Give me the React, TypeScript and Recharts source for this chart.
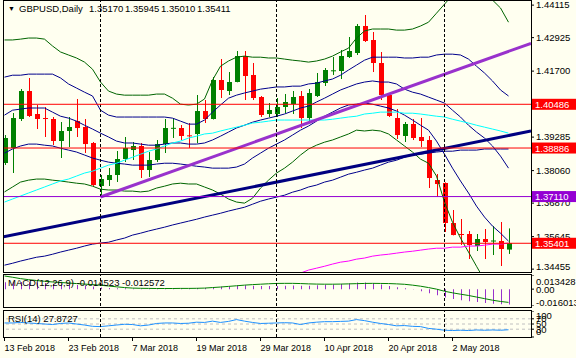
import React from "react";
import { Bar, ComposedChart, Line, ReferenceLine, XAxis, YAxis } from "recharts";

const dateLabels = ["13 Feb 2018", "23 Feb 2018", "7 Mar 2018", "19 Mar 2018", "29 Mar 2018", "10 Apr 2018", "20 Apr 2018", "2 May 2018"];
const dateIndex = [0, 8, 16, 24, 32, 40, 48, 56];
const monthStarts = [12, 34, 55];

const opens = [1.38338,1.38887,1.39948,1.40972,1.40131,1.39984,1.39948,1.39143,1.39509,1.39875,
  1.39655,1.39069,1.37496,1.37716,1.37899,1.38484,1.38813,1.3896,1.38082,1.38448,
  1.39032,1.396,1.39618,1.3935,1.39399,1.4024,1.39948,1.41375,1.40972,1.41302,
  1.42253,1.41558,1.40753,1.40131,1.40131,1.40387,1.40497,1.40789,1.39984,1.40789,
  1.41265,1.4171,1.41704,1.42216,1.42363,1.43351,1.42838,1.41997,1.40826,1.39984,
  1.39326,1.39765,1.39289,1.39179,1.37716,1.37606,1.36142,1.3574,1.3574,1.35301,
  1.35557,1.35466,1.35484,1.3517];
const highs = [1.39362,1.40167,1.41046,1.41448,1.4046,1.40387,1.40021,1.39838,1.40021,1.4068,
  1.39948,1.39106,1.37899,1.38155,1.38777,1.39289,1.39106,1.39069,1.3874,1.39179,
  1.39948,1.39984,1.39728,1.39801,1.40826,1.40643,1.41485,1.42143,1.41667,1.42436,
  1.42436,1.41997,1.40789,1.40533,1.40716,1.40863,1.40972,1.40972,1.41046,1.41631,
  1.41814,1.42216,1.42473,1.42948,1.43424,1.43753,1.43131,1.42399,1.40899,1.40314,
  1.39838,1.39948,1.39984,1.39326,1.37936,1.3763,1.36618,1.36289,1.3585,1.3574,
  1.35923,1.36033,1.36179,1.35945];
const lows = [1.38265,1.37972,1.39875,1.40021,1.39582,1.39289,1.38996,1.38521,1.38923,1.39289,
  1.38704,1.375,1.37094,1.37496,1.37643,1.38374,1.38448,1.37789,1.37826,1.38374,
  1.38704,1.39253,1.39179,1.38887,1.39069,1.39801,1.3993,1.40716,1.40826,1.4129,
  1.40643,1.40643,1.40021,1.40021,1.40021,1.40167,1.40131,1.39618,1.39838,1.40753,
  1.41155,1.41558,1.41411,1.4218,1.4229,1.42765,1.41667,1.40643,1.40021,1.39216,
  1.39106,1.39179,1.38923,1.37423,1.37094,1.35813,1.3569,1.35338,1.34825,1.35118,
  1.34825,1.34971,1.34569,1.3501];
const closes = [1.39253,1.39984,1.40972,1.40058,1.39948,1.39948,1.39143,1.39509,1.39655,1.39618,
  1.39032,1.37533,1.37752,1.37899,1.38484,1.38887,1.3896,1.38082,1.38448,1.39032,
  1.39618,1.39625,1.39326,1.3933,1.4024,1.39948,1.41375,1.41009,1.41302,1.42253,
  1.41521,1.40716,1.40094,1.40277,1.40387,1.4057,1.40753,1.39984,1.40899,1.41302,
  1.41741,1.4173,1.42253,1.42436,1.43351,1.42802,1.41997,1.40826,1.40058,1.39362,
  1.39765,1.39253,1.39143,1.37789,1.37569,1.36142,1.35703,1.35703,1.35338,1.35557,
  1.35447,1.35502,1.35191,1.35411];

// bollinger 2.0 (green) and 1.0 (navy) bands, middle line
const bbUp2 = [1.4284,1.4284,1.4287,1.4291,1.4291,1.4287,1.4262,1.424,1.4229,1.4218,
  1.4203,1.4177,1.413,1.4097,1.4086,1.4082,1.4082,1.4082,1.4082,1.4086,
  1.4086,1.4071,1.4049,1.4046,1.4049,1.4068,1.4137,1.4188,1.4207,1.4221,
  1.4225,1.4221,1.4221,1.4218,1.4218,1.4214,1.421,1.4207,1.4203,1.4207,
  1.4214,1.4225,1.424,1.4254,1.4291,1.4317,1.4324,1.4324,1.4324,1.432,
  1.432,1.4324,1.4335,1.4349,1.4382,1.4415,1.4448,1.4467,1.4474,1.4467,
  1.4452,1.443,1.4401,1.4349];
const bbUp1 = [1.4148,1.4155,1.4155,1.4159,1.4159,1.4159,1.4159,1.4145,1.4123,1.4108,
  1.4093,1.4079,1.4027,1.4009,1.4002,1.4002,1.4002,1.4002,1.4002,1.4002,
  1.4002,1.3998,1.3987,1.3976,1.3976,1.3991,1.402,1.4046,1.4071,1.4082,
  1.409,1.4097,1.4104,1.4108,1.4112,1.4112,1.4115,1.4115,1.4123,1.4126,
  1.4134,1.4141,1.4155,1.4174,1.4192,1.421,1.4221,1.4221,1.4221,1.4221,
  1.4218,1.4218,1.4221,1.4221,1.4229,1.4232,1.4232,1.4229,1.4214,1.4188,
  1.4163,1.4134,1.4101,1.4079];
const bbMid = [1.4009,1.4027,1.4031,1.4035,1.4035,1.4035,1.402,1.4005,1.3998,1.3987,
  1.3972,1.3958,1.3943,1.3929,1.3914,1.3907,1.3907,1.3903,1.3899,1.3899,
  1.3903,1.3907,1.3907,1.3903,1.3903,1.3907,1.3918,1.3932,1.3947,1.3962,
  1.3972,1.3983,1.3991,1.3998,1.4005,1.4013,1.4024,1.4035,1.4042,1.4057,
  1.4071,1.4086,1.4101,1.4112,1.4123,1.413,1.4134,1.413,1.413,1.4123,
  1.4104,1.4093,1.4086,1.4075,1.4064,1.4053,1.4027,1.4002,1.3972,1.3947,
  1.3925,1.3896,1.3859,1.3815];
const bbLo1 = [1.387,1.3885,1.3896,1.3903,1.3903,1.3899,1.3896,1.3888,1.3881,1.3874,
  1.3863,1.3852,1.3844,1.3837,1.3833,1.383,1.3826,1.3826,1.3826,1.383,
  1.3833,1.3833,1.383,1.3826,1.3822,1.3819,1.3815,1.3815,1.3815,1.3819,
  1.383,1.3852,1.387,1.3888,1.3903,1.3918,1.3936,1.3954,1.3969,1.3987,
  1.4005,1.402,1.4035,1.4046,1.4049,1.4053,1.4049,1.4042,1.4035,1.4024,
  1.4009,1.3991,1.3972,1.3954,1.3914,1.3866,1.3815,1.3768,1.3724,1.3676,
  1.3636,1.3603,1.3577,1.3548];
const bbLo2 = [1.3728,1.3746,1.3764,1.3771,1.3775,1.3775,1.3771,1.3768,1.3764,1.376,
  1.3757,1.3749,1.3738,1.3735,1.3735,1.3731,1.3731,1.3728,1.3731,1.3742,
  1.3749,1.3757,1.376,1.3757,1.3757,1.3746,1.3735,1.372,1.3702,1.3691,
  1.3687,1.3705,1.3742,1.3771,1.3797,1.3815,1.3837,1.3863,1.3885,1.3899,
  1.391,1.3918,1.3929,1.394,1.3954,1.3951,1.3954,1.3951,1.394,1.3918,
  1.3896,1.3874,1.3848,1.3833,1.3786,1.3691,1.3617,1.3559,1.3508,1.3456,
  1.3405,1.3361,1.3325,1.3288];

const maCyan = [1.3691,1.3702,1.3713,1.3724,1.3735,1.3746,1.3757,1.3768,1.3775,1.3786,
  1.3797,1.3804,1.3815,1.3826,1.3833,1.3844,1.3855,1.3866,1.3877,1.3885,
  1.3896,1.3907,1.3914,1.3925,1.3932,1.394,1.3943,1.3951,1.3958,1.3965,
  1.3972,1.398,1.3983,1.3987,1.3991,1.3991,1.3991,1.3991,1.3991,1.3991,
  1.3991,1.3994,1.3998,1.4002,1.4005,1.4013,1.4016,1.402,1.402,1.402,
  1.4016,1.4016,1.4013,1.4009,1.4005,1.4002,1.3994,1.3987,1.398,1.3972,
  1.3965,1.3958,1.3951,1.3943];
const maNavy = [1.346,1.3467,1.3475,1.3482,1.3489,1.3493,1.35,1.3508,1.3515,1.3522,
  1.353,1.3537,1.3541,1.3544,1.3552,1.3559,1.357,1.3577,1.3585,1.3592,
  1.3599,1.3607,1.3614,1.3621,1.3628,1.3636,1.3643,1.365,1.3658,1.3665,
  1.3672,1.3683,1.3694,1.3702,1.3709,1.3716,1.3727,1.3735,1.3746,1.3753,
  1.3764,1.3771,1.3782,1.3793,1.38,1.3808,1.3815,1.3826,1.3837,1.3844,
  1.3855,1.3863,1.3866,1.387,1.3874,1.3877,1.3877,1.3881,1.3881,1.3881,
  1.3885,1.3885,1.3885,1.3885];
const maMagenta = [null,null,null,null,null,null,null,null,null,null,
  null,null,null,null,null,null,null,null,null,null,
  null,null,null,null,null,null,null,null,null,null,
  null,null,null,null,null,null,1.342,1.3431,1.3442,1.3449,
  1.3456,1.3464,1.3471,1.3475,1.3482,1.3486,1.3493,1.3497,1.35,1.3504,
  1.3508,1.3511,1.3515,1.3519,1.3522,1.3522,1.3526,1.3526,1.353,1.353,
  1.3533,1.3537,1.3537,1.3541];

const macdHist = [0.0065,0.0066,0.0068,0.0066,0.0062,0.0058,0.0052,0.0047,0.0043,0.004,
  0.0034,0.0024,0.0015,0.001,0.0008,0.0008,0.0007,0.0004,0.0003,0.0004,
  0.0006,0.0007,0.0007,0.0006,0.001,0.0011,0.0019,0.0022,0.0026,0.0034,
  0.0036,0.0033,0.003,0.0029,0.003,0.0032,0.0034,0.0031,0.0033,0.0037,
  0.0042,0.0043,0.0048,0.0053,0.0062,0.0062,0.0056,0.0043,0.003,0.0017,
  0.0008,0.0001,-0.002,-0.004,-0.0057,-0.008,-0.0094,-0.0105,-0.0114,-0.0122,
  -0.0131,-0.0138,-0.0143,-0.014523];
const macdSignal = [0.0125,0.0113,0.01,0.009,0.0082,0.0075,0.0068,0.0063,0.0058,0.0053,
  0.0048,0.0043,0.0037,0.003,0.0022,0.0015,0.001,0.0008,0.0007,0.0006,
  0.0006,0.0006,0.0007,0.0007,0.0008,0.001,0.0015,0.002,0.0026,0.0032,
  0.0038,0.0043,0.0047,0.0051,0.0054,0.0055,0.0055,0.0053,0.005,0.0048,
  0.0047,0.0047,0.0048,0.005,0.0052,0.0054,0.0055,0.0054,0.0053,0.005,
  0.0046,0.0038,0.0028,0.0015,0,-0.002,-0.0035,-0.0048,-0.006,-0.0075,
  -0.009,-0.0105,-0.0117,-0.012572];
const rsiValues = [54,54,56,54,52,50,48,52,54,50,
  46,41,40,43,46,49,48,43,46,52,
  54,54,52,53,57,56,61,56,60,67,
  61,56,52,53,54,55,54,48,54,57,
  59,59,60,61,67,63,57,52,48,43,
  44,41,40,33,30,26,25,26,25,27,
  26,27,26,27.8727];

const priceTicks = [1.44115, 1.42925, 1.417, 1.4049, 1.39285, 1.3806, 1.3687, 1.35645, 1.34455];
const levels = [1.40486, 1.38886, 1.3711, 1.35401];
const purpleTrend = [{ i: 12, v: 1.37094 }, { i: 65.8125, v: 1.42718 }];
const navyTrend = [{ i: -0.4375, v: 1.35616 }, { i: 65.8125, v: 1.39509 }];

const X_DOMAIN = [-0.4375, 65.8125];
const PRICE_DOMAIN = [1.3435, 1.44302];
const BG = "#FFFFF0";
const FONT = "'Liberation Sans', Arial, sans-serif";

const rows = Array.from({ length: 66 }, (_, i) =>
  i < 64
    ? {
        i,
        open: opens[i],
        high: highs[i],
        low: lows[i],
        close: closes[i],
        range: [lows[i], highs[i]],
        up2: bbUp2[i],
        up1: bbUp1[i],
        mid: bbMid[i],
        lo1: bbLo1[i],
        lo2: bbLo2[i],
        cyan: maCyan[i],
        navy: maNavy[i],
        magenta: maMagenta[i],
        macd: macdHist[i],
        signal: macdSignal[i],
        rsi: rsiValues[i],
      }
    : { i }
);

function Candle(props: any) {
  const { x, y, width, height, payload } = props;
  if (!payload || payload.open == null) return null;
  const top = Math.min(y, y + height);
  const span = Math.abs(height);
  const k = span / (payload.high - payload.low);
  const yO = top + (payload.high - payload.open) * k;
  const yC = top + (payload.high - payload.close) * k;
  const color = payload.close >= payload.open ? "#008000" : "#FF0000";
  const cx = Math.round(x + width / 2 - 0.5) + 0.5;
  return (
    <g>
      <line x1={cx} x2={cx} y1={top} y2={top + span} stroke={color} />
      <rect x={cx - 2.5} y={Math.min(yO, yC)} width={5} height={Math.max(Math.abs(yO - yC), 1)} fill={color} />
    </g>
  );
}

function PriceBox(props: any) {
  const { viewBox, color, text } = props;
  if (!viewBox) return null;
  const right = viewBox.x + viewBox.width;
  return (
    <g>
      <rect x={right + 1} y={viewBox.y - 5.5} width={45} height={11} fill={color} />
      <text x={right + 4} y={viewBox.y + 3.5} fill="#FFFFFF" fontSize={9.5}>
        {text}
      </text>
    </g>
  );
}

function PriceTick(props: any) {
  const { x, y, payload } = props;
  const c = Math.min(Math.max(y, 4), 267);
  return (
    <text x={x} y={c + 3.3} fontSize={9.5} fill="#000">
      {payload.value.toFixed(5)}
    </text>
  );
}

function MacdTick(props: any) {
  const { x, y, payload } = props;
  const v = payload.value;
  const shift = v > 0 ? 7 : v < 0 ? -3 : 1;
  return (
    <text x={x} y={y + shift + 3.3} fontSize={9.5} fill="#000">
      {v === 0 ? "0.00" : v.toFixed(6)}
    </text>
  );
}

function RsiTick(props: any) {
  const { x, y, payload } = props;
  const c = Math.min(Math.max(y, 5), 21);
  return (
    <text x={x} y={c + 3.3} fontSize={9.5} fill="#000">
      {payload.value}
    </text>
  );
}

function DateTick(props: any) {
  const { x, y, payload } = props;
  return (
    <text x={x} y={y + 8} fontSize={9} fill="#000" textAnchor="start">
      {dateLabels[dateIndex.indexOf(payload.value)]}
    </text>
  );
}

const line = { type: "linear" as const, dot: false, activeDot: false, isAnimationActive: false, strokeWidth: 1, xAxisId: "n" };

export default function App() {
  const sep = monthStarts.map((m) => (
    <ReferenceLine key={m} xAxisId="n" x={m} stroke="#000" strokeDasharray="3 2" />
  ));
  const frame = (top: number, height: number) => ({
    position: "absolute" as const,
    left: 3,
    top,
    width: 529,
    height,
    border: "1px solid #000",
    boxSizing: "border-box" as const,
    pointerEvents: "none" as const,
  });
  return (
    <div style={{ position: "relative", width: 576, height: 358, background: BG, overflow: "hidden", fontFamily: FONT }}>
      <style>{"body{margin:0}"}</style>

      <div style={{ position: "absolute", left: 0, top: 0 }}>
        <ComposedChart width={576} height={273} data={rows} margin={{ top: 0, right: 0, bottom: 1, left: 1 }}>
          <XAxis xAxisId="c" dataKey="i" type="category" hide padding={{ left: 0, right: 2 }} />
          <XAxis xAxisId="n" dataKey="i" type="number" domain={X_DOMAIN} hide allowDataOverflow />
          <YAxis
            orientation="right"
            width={45}
            domain={PRICE_DOMAIN}
            allowDataOverflow
            ticks={priceTicks}
            interval={0}
            tick={<PriceTick />}
            tickSize={3}
            tickMargin={2}
            tickLine={{ stroke: "#000" }}
            axisLine={false}
          />
          <Bar xAxisId="c" dataKey="range" barSize={5} shape={<Candle />} isAnimationActive={false} />
          <Line {...line} dataKey="up2" stroke="#006400" />
          <Line {...line} dataKey="lo2" stroke="#006400" />
          <Line {...line} dataKey="up1" stroke="#00008B" />
          <Line {...line} dataKey="mid" stroke="#00008B" />
          <Line {...line} dataKey="lo1" stroke="#00008B" />
          <Line {...line} dataKey="cyan" stroke="#00FFFF" />
          <Line {...line} dataKey="navy" stroke="#00008B" />
          <Line {...line} dataKey="magenta" stroke="#FF00FF" />
          <Line {...line} data={navyTrend} dataKey="v" stroke="#000080" strokeWidth={3} />
          <Line {...line} data={purpleTrend} dataKey="v" stroke="#9932CC" strokeWidth={3} />
          {sep}
          <ReferenceLine xAxisId="n" y={levels[0]} stroke="#FF0000" />
          <ReferenceLine xAxisId="n" y={levels[1]} stroke="#FF0000" />
          <ReferenceLine xAxisId="n" y={levels[2]} stroke="#9400D3" />
          <ReferenceLine xAxisId="n" y={levels[3]} stroke="#FF0000" />
        </ComposedChart>
      </div>

      {/* price boxes sit above the axis labels */}
      <div style={{ position: "absolute", left: 0, top: 0 }}>
        <ComposedChart width={576} height={273} data={rows} margin={{ top: 0, right: 45, bottom: 1, left: 1 }}>
          <XAxis xAxisId="n" dataKey="i" type="number" domain={X_DOMAIN} hide allowDataOverflow />
          <YAxis hide domain={PRICE_DOMAIN} allowDataOverflow />
          <ReferenceLine xAxisId="n" y={levels[0]} stroke="none" label={<PriceBox color="#FF0000" text={levels[0].toFixed(5)} />} />
          <ReferenceLine xAxisId="n" y={levels[1]} stroke="none" label={<PriceBox color="#FF0000" text={levels[1].toFixed(5)} />} />
          <ReferenceLine xAxisId="n" y={levels[2]} stroke="none" label={<PriceBox color="#9400D3" text={levels[2].toFixed(5)} />} />
          <ReferenceLine xAxisId="n" y={levels[3]} stroke="none" label={<PriceBox color="#FF0000" text={levels[3].toFixed(5)} />} />
        </ComposedChart>
      </div>

      <div style={{ position: "absolute", left: 0, top: 275 }}>
        <ComposedChart width={576} height={31} data={rows} margin={{ top: 0, right: 0, bottom: 0, left: 1 }}>
          <XAxis xAxisId="c" dataKey="i" type="category" hide padding={{ left: 0, right: 2 }} />
          <XAxis xAxisId="n" dataKey="i" type="number" domain={X_DOMAIN} hide allowDataOverflow />
          <YAxis
            orientation="right"
            width={45}
            domain={[-0.016013, 0.013428]}
            allowDataOverflow
            ticks={[0.013428, 0, -0.016013]}
            interval={0}
            tick={<MacdTick />}
            tickSize={3}
            tickMargin={2}
            tickLine={{ stroke: "#000" }}
            axisLine={false}
          />
          <Bar xAxisId="c" dataKey="macd" barSize={1} fill="#9932CC" isAnimationActive={false} />
          <Line {...line} dataKey="signal" stroke="#008000" />
          {sep}
        </ComposedChart>
      </div>

      <div style={{ position: "absolute", left: 0, top: 311 }}>
        <ComposedChart width={576} height={47} data={rows} margin={{ top: 0, right: 0, bottom: 0, left: 1 }}>
          <XAxis
            xAxisId="n"
            dataKey="i"
            type="number"
            domain={X_DOMAIN}
            allowDataOverflow
            ticks={dateIndex}
            interval={0}
            height={21}
            tickSize={4}
            tickMargin={2}
            axisLine={false}
            tickLine={{ stroke: "#000" }}
            tick={<DateTick />}
          />
          <YAxis
            orientation="right"
            width={45}
            domain={[0, 100]}
            ticks={[100, 70, 50, 30, 0]}
            interval={0}
            tick={<RsiTick />}
            tickSize={3}
            tickMargin={2}
            tickLine={{ stroke: "#000" }}
            axisLine={false}
          />
          <ReferenceLine xAxisId="n" y={70} stroke="#C0C0C0" strokeDasharray="3 3" />
          <ReferenceLine xAxisId="n" y={50} stroke="#C0C0C0" strokeDasharray="3 3" />
          <ReferenceLine xAxisId="n" y={30} stroke="#C0C0C0" strokeDasharray="3 3" />
          <Line {...line} dataKey="rsi" stroke="#1E90FF" />
          {sep}
        </ComposedChart>
      </div>

      <div style={{ position: "absolute", left: 0, top: 0, width: 3, height: 338, background: BG }} />
      <div style={frame(0, 273)} />
      <div style={frame(274, 34)} />
      <div style={frame(310, 28)} />

      <div style={{ position: "absolute", top: 3, left: 0, fontSize: 9.5, color: "#000", lineHeight: "12px", whiteSpace: "pre" }}>
        <span style={{ position: "absolute", left: 8, top: 0, fontSize: 7 }}>▼</span>
        <span style={{ position: "absolute", left: 19, top: 0 }}>GBPUSD,Daily</span>
        <span style={{ position: "absolute", left: 89, top: 0 }}>1.35170</span>
        <span style={{ position: "absolute", left: 125, top: 0 }}>1.35945</span>
        <span style={{ position: "absolute", left: 161, top: 0 }}>1.35010</span>
        <span style={{ position: "absolute", left: 197, top: 0 }}>1.35411</span>
      </div>
      <div style={{ position: "absolute", top: 277, left: 8, fontSize: 9.5, lineHeight: "12px", whiteSpace: "pre" }}>
        MACD(12,26,9) -0.014523 -0.012572
      </div>
      <div style={{ position: "absolute", top: 313, left: 8, fontSize: 9.5, lineHeight: "12px", whiteSpace: "pre" }}>
        RSI(14) 27.8727
      </div>
    </div>
  );
}
